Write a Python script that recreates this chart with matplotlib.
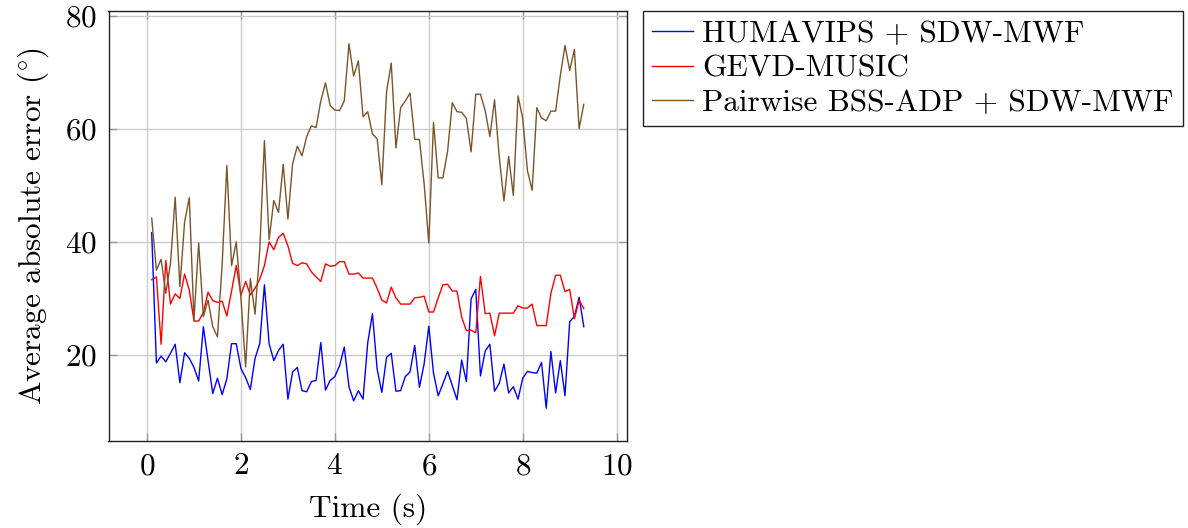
import numpy as np
import matplotlib
matplotlib.use('Agg')
import matplotlib.pyplot as plt

# Datos (paso de 0.1 s)
time = np.round(np.arange(1, 94) * 0.1, 1)

humavips = [41.6, 18.6, 19.8, 18.8, 20.3, 21.9, 15.1, 20.4, 19.4, 17.8,
            15.4, 25.0, 19.0, 13.2, 15.9, 13.0, 15.8, 22.0, 22.0, 17.6,
            16.0, 13.9, 19.4, 22.0, 32.4, 22.0, 19.0, 20.8, 21.9, 12.2,
            17.0, 17.8, 13.7, 13.5, 15.3, 15.5, 22.2, 13.8, 15.5, 16.2,
            18.1, 21.4, 14.4, 11.9, 13.7, 12.2, 22.2, 27.3, 17.5, 13.4,
            19.6, 20.3, 13.6, 13.7, 16.2, 17.0, 21.7, 14.3, 18.4, 25.1,
            16.8, 12.8, 14.9, 17.1, 14.6, 12.1, 19.1, 15.3, 29.9, 31.6,
            16.3, 20.7, 21.9, 13.6, 15.0, 18.4, 13.3, 14.4, 12.2, 15.9,
            17.1, 16.9, 16.8, 18.7, 10.6, 20.6, 13.3, 19.0, 12.8, 25.9,
            26.8, 30.2, 25.0]

gevd_music = [33.3, 33.8, 21.9, 36.7, 29.0, 30.8, 30.0, 34.3, 31.5, 26.0,
              26.0, 27.5, 31.1, 29.6, 29.3, 29.5, 26.9, 31.3, 35.8, 30.6,
              33.0, 30.6, 31.8, 33.4, 35.8, 40.0, 38.6, 40.8, 41.5, 39.3,
              36.2, 35.8, 36.3, 36.1, 34.7, 33.8, 33.0, 36.1, 35.7, 35.8,
              36.5, 36.5, 34.3, 34.3, 34.5, 33.6, 33.6, 33.6, 31.8, 29.7,
              29.2, 32.0, 30.1, 29.0, 29.0, 29.0, 30.1, 30.2, 30.4, 27.6,
              27.6, 30.1, 32.4, 32.5, 31.3, 31.3, 26.7, 24.3, 24.4, 23.9,
              33.9, 27.3, 27.4, 23.4, 27.4, 27.4, 27.4, 27.4, 28.7, 28.3,
              28.3, 29.0, 25.2, 25.2, 25.2, 30.9, 34.1, 34.1, 31.2, 31.6,
              26.4, 29.7, 28.2]

pairwise_bss = [44.2, 35.0, 36.9, 30.9, 36.2, 47.9, 32.1, 43.5, 47.8, 26.2,
                39.8, 26.8, 29.7, 25.0, 23.2, 36.0, 53.5, 35.8, 40.0, 30.0,
                17.9, 33.5, 27.2, 38.5, 57.9, 40.4, 47.3, 45.2, 53.7, 44.0,
                53.8, 56.9, 55.2, 58.6, 60.5, 60.2, 64.9, 68.1, 64.1, 63.3,
                63.2, 64.9, 75.0, 69.3, 72.0, 62.1, 63.0, 59.1, 58.2, 50.1,
                66.5, 71.6, 56.6, 63.7, 64.9, 66.3, 58.1, 58.1, 50.3, 39.8,
                61.1, 51.3, 51.3, 56.0, 64.6, 63.0, 62.9, 61.8, 55.9, 66.1,
                66.1, 63.2, 58.6, 65.1, 55.0, 47.2, 55.1, 48.2, 65.8, 61.8,
                52.6, 49.1, 63.7, 61.9, 61.4, 63.1, 63.1, 69.4, 74.7, 70.3,
                74.0, 60.0, 64.3]

labels = ['HUMAVIPS + SDW-MWF', 'GEVD-MUSIC', 'Pairwise BSS-ADP + SDW-MWF']
colors = ['#0000ff', '#ff0000', '#7b5428']

plt.rcParams['font.family'] = 'serif'
plt.rcParams['font.serif'] = ['cmr10']
plt.rcParams['mathtext.fontset'] = 'cm'
plt.rcParams['axes.formatter.use_mathtext'] = True

fs = 22.5

fig = plt.figure(figsize=(11.88, 5.28), dpi=100)
ax = fig.add_axes([108.5 / 1188, 1 - 441 / 528, 518.5 / 1188, 430 / 528])

for serie, lab, col in zip([humavips, gevd_music, pairwise_bss], labels, colors):
    ax.plot(time, serie, color=col, lw=1.0, label=lab)

ax.set_xlim(-0.82, 10.22)
ax.set_ylim(4.8, 80.8)
ax.set_xticks([0, 2, 4, 6, 8, 10])
ax.set_yticks([20, 40, 60, 80])
ax.grid(True, color='#cccccc', lw=1.0)
ax.set_axisbelow(True)
ax.tick_params(direction='in', top=True, right=True, length=6, width=1,
               color='#999999', labelsize=fs, pad=8)
for s in ax.spines.values():
    s.set_color('#222222')
    s.set_linewidth(1.0)

ax.set_xlabel('Time (s)', fontsize=fs, labelpad=10)
ax.set_ylabel(r'Average absolute error $(\!^\circ\!)$', fontsize=fs, labelpad=10)

leg = fig.legend(loc='upper left', bbox_to_anchor=(643 / 1188, 1 - 11 / 528),
                 fontsize=fs, handlelength=1.3, handletextpad=0.3,
                 labelspacing=0.2, borderpad=0.3, borderaxespad=0,
                 fancybox=False, framealpha=1)
leg.get_frame().set_edgecolor('#222222')
leg.get_frame().set_linewidth(1.0)

plt.savefig('out.png', dpi=100)
